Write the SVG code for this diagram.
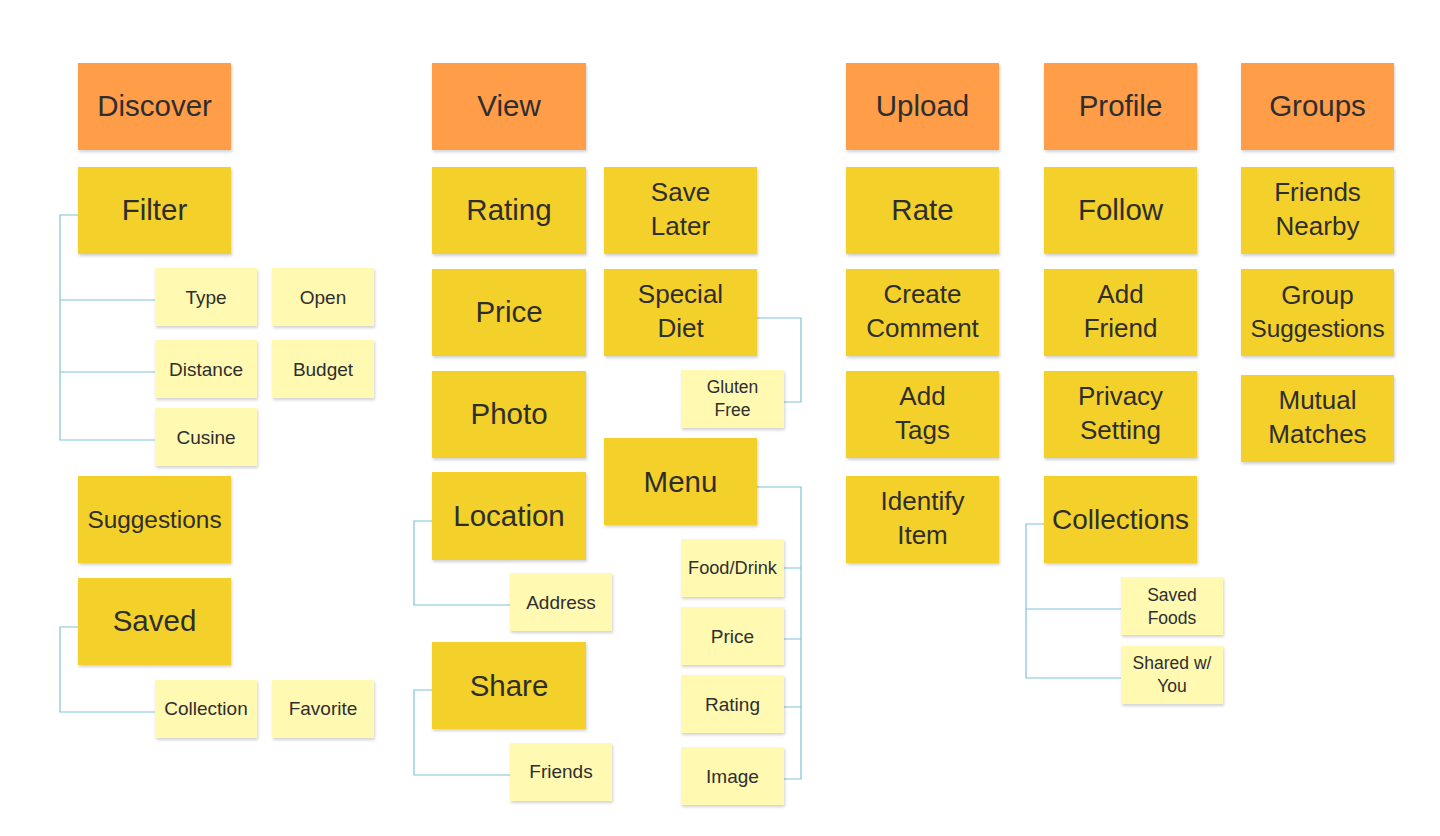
<svg xmlns="http://www.w3.org/2000/svg" width="1440" height="836" viewBox="0 0 1440 836">
<defs>
<filter id="sh" x="-10%" y="-10%" width="125%" height="130%">
<feDropShadow dx="1" dy="2" stdDeviation="1.5" flood-color="#000" flood-opacity="0.18"/>
</filter>
<style>
.h rect{fill:#FF9D48;filter:url(#sh)}
.y rect{fill:#F4D02A;filter:url(#sh)}
.s rect{fill:#FFF9B1;filter:url(#sh)}
text{font-family:"Liberation Sans",Arial,sans-serif;fill:#2e2e2e;text-anchor:middle;dominant-baseline:central}
.h text,.y text{font-size:29.5px}
.y text.c28{font-size:28px}
.y text.t{font-size:26px}
.y text.u{font-size:24.4px}
.s text{font-size:19px}
.s text.f{font-size:18.2px}
.s text.t{font-size:17.5px}
.c{fill:none;stroke:#80C3D8;stroke-width:1.2}
</style>
</defs>
<rect width="1440" height="836" fill="#fff"/>
<g id="connectors">
<path class="c" d="M78 215H60V440H155M60 300H155M60 372H155"/>
<path class="c" d="M78 627H60V712H155"/>
<path class="c" d="M432 521H414V605H510"/>
<path class="c" d="M432 690H414V775H510"/>
<path class="c" d="M757 318H801V402H784"/>
<path class="c" d="M757 487H801V779H784M784 568H801M784 639H801M784 707H801"/>
<path class="c" d="M1044 524H1026V678H1121M1026 609H1121"/>
</g>
<g id="discover" class="h"><rect x="78" y="63" width="153" height="87"/><text x="154.5" y="105">Discover</text></g>
<g id="filter" class="y"><rect x="78" y="167" width="153" height="87"/><text x="154.5" y="209">Filter</text></g>
<g id="type" class="s"><rect x="155" y="268" width="102" height="58"/><text x="206" y="297">Type</text></g>
<g id="open" class="s"><rect x="272" y="268" width="102" height="58"/><text x="323" y="297">Open</text></g>
<g id="distance" class="s"><rect x="155" y="340" width="102" height="58"/><text x="206" y="369">Distance</text></g>
<g id="budget" class="s"><rect x="272" y="340" width="102" height="58"/><text x="323" y="369">Budget</text></g>
<g id="cusine" class="s"><rect x="155" y="408" width="102" height="58"/><text x="206" y="437">Cusine</text></g>
<g id="suggestions" class="y"><rect x="78" y="476" width="153" height="87"/><text class="u" x="154.5" y="519">Suggestions</text></g>
<g id="saved" class="y"><rect x="78" y="578" width="153" height="87"/><text x="154.5" y="620">Saved</text></g>
<g id="collection" class="s"><rect x="155" y="680" width="102" height="58"/><text x="206" y="708">Collection</text></g>
<g id="favorite" class="s"><rect x="272" y="680" width="102" height="58"/><text x="323" y="708">Favorite</text></g>

<g id="view" class="h"><rect x="432" y="63" width="154" height="87"/><text x="509" y="105">View</text></g>
<g id="rating" class="y"><rect x="432" y="167" width="154" height="87"/><text x="509" y="209">Rating</text></g>
<g id="price" class="y"><rect x="432" y="269" width="154" height="87"/><text x="509" y="311">Price</text></g>
<g id="photo" class="y"><rect x="432" y="371" width="154" height="87"/><text x="509" y="413">Photo</text></g>
<g id="location" class="y"><rect x="432" y="472" width="154" height="88"/><text x="509" y="515">Location</text></g>
<g id="address" class="s"><rect x="510" y="573" width="102" height="58"/><text x="561" y="602">Address</text></g>
<g id="share" class="y"><rect x="432" y="642" width="154" height="87"/><text x="509" y="685">Share</text></g>
<g id="friends" class="s"><rect x="510" y="743" width="102" height="58"/><text x="561" y="771">Friends</text></g>

<g id="save-later" class="y"><rect x="604" y="167" width="153" height="87"/><text class="t" x="680.5" y="192">Save</text><text class="t" x="680.5" y="226">Later</text></g>
<g id="special-diet" class="y"><rect x="604" y="269" width="153" height="87"/><text class="t" x="680.5" y="294">Special</text><text class="t" x="680.5" y="328">Diet</text></g>
<g id="gluten-free" class="s"><rect x="681" y="370" width="103" height="58"/><text class="t" x="732.5" y="387">Gluten</text><text class="t" x="732.5" y="410">Free</text></g>
<g id="menu" class="y"><rect x="604" y="438" width="153" height="87"/><text x="680.5" y="481">Menu</text></g>
<g id="food-drink" class="s"><rect x="681" y="539" width="103" height="58"/><text class="f" x="732.5" y="568">Food/Drink</text></g>
<g id="menu-price" class="s"><rect x="681" y="607" width="103" height="58"/><text x="732.5" y="636">Price</text></g>
<g id="menu-rating" class="s"><rect x="681" y="675" width="103" height="58"/><text x="732.5" y="704">Rating</text></g>
<g id="image" class="s"><rect x="681" y="747" width="103" height="58"/><text x="732.5" y="776">Image</text></g>

<g id="upload" class="h"><rect x="846" y="63" width="153" height="87"/><text x="922.5" y="105">Upload</text></g>
<g id="rate" class="y"><rect x="846" y="167" width="153" height="87"/><text x="922.5" y="209">Rate</text></g>
<g id="create-comment" class="y"><rect x="846" y="269" width="153" height="87"/><text class="t" x="922.5" y="294">Create</text><text class="t" x="922.5" y="328">Comment</text></g>
<g id="add-tags" class="y"><rect x="846" y="371" width="153" height="87"/><text class="t" x="922.5" y="396">Add</text><text class="t" x="922.5" y="430">Tags</text></g>
<g id="identify-item" class="y"><rect x="846" y="476" width="153" height="87"/><text class="t" x="922.5" y="501">Identify</text><text class="t" x="922.5" y="535">Item</text></g>

<g id="profile" class="h"><rect x="1044" y="63" width="153" height="87"/><text x="1120.5" y="105">Profile</text></g>
<g id="follow" class="y"><rect x="1044" y="167" width="153" height="87"/><text x="1120.5" y="209">Follow</text></g>
<g id="add-friend" class="y"><rect x="1044" y="269" width="153" height="87"/><text class="t" x="1120.5" y="294">Add</text><text class="t" x="1120.5" y="328">Friend</text></g>
<g id="privacy-setting" class="y"><rect x="1044" y="371" width="153" height="87"/><text class="t" x="1120.5" y="396">Privacy</text><text class="t" x="1120.5" y="430">Setting</text></g>
<g id="collections" class="y"><rect x="1044" y="476" width="153" height="87"/><text class="c28" x="1120.5" y="519">Collections</text></g>
<g id="saved-foods" class="s"><rect x="1121" y="577" width="102" height="58"/><text class="t" x="1172" y="595">Saved</text><text class="t" x="1172" y="618">Foods</text></g>
<g id="shared-with-you" class="s"><rect x="1121" y="646" width="102" height="58"/><text class="t" x="1172" y="663">Shared w/</text><text class="t" x="1172" y="686">You</text></g>

<g id="groups" class="h"><rect x="1241" y="63" width="153" height="87"/><text x="1317.5" y="105">Groups</text></g>
<g id="friends-nearby" class="y"><rect x="1241" y="167" width="153" height="87"/><text class="t" x="1317.5" y="192">Friends</text><text class="t" x="1317.5" y="226">Nearby</text></g>
<g id="group-suggestions" class="y"><rect x="1241" y="269" width="153" height="87"/><text class="t" x="1317.5" y="295">Group</text><text class="u" x="1317.5" y="328">Suggestions</text></g>
<g id="mutual-matches" class="y"><rect x="1241" y="375" width="153" height="87"/><text class="t" x="1317.5" y="400">Mutual</text><text class="t" x="1317.5" y="434">Matches</text></g>
</svg>
